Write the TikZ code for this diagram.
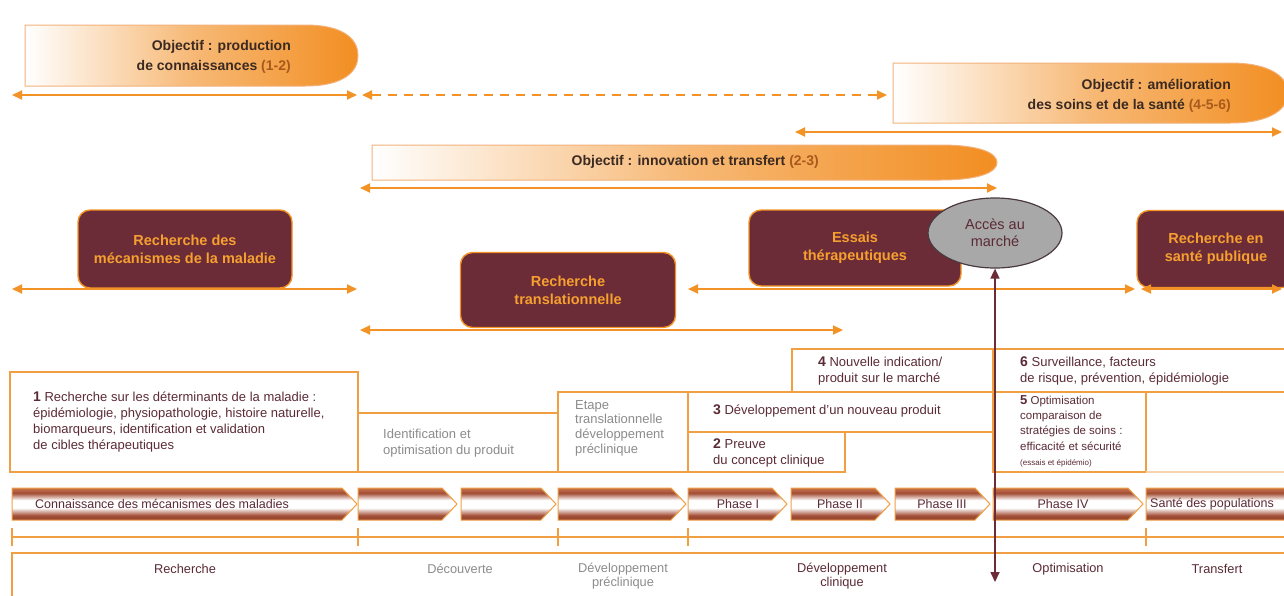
\documentclass[tikz,border=0pt]{standalone}
\usepackage{fontspec}
\setmainfont{Liberation Sans}
\usetikzlibrary{arrows.meta,shapes.geometric}
\definecolor{orng}{HTML}{F39325}
\definecolor{objor}{HTML}{F28E22}
\definecolor{objbd}{HTML}{F2B27A}
\definecolor{objdark}{HTML}{3B2A22}
\definecolor{objnum}{HTML}{A85A1C}
\definecolor{marn}{HTML}{6B2C37}
\definecolor{boxtxt}{HTML}{F7A030}
\definecolor{tline}{HTML}{F0A043}
\definecolor{dtext}{HTML}{5B2B36}
\definecolor{gtext}{HTML}{8C8C8C}
\definecolor{ellfill}{HTML}{A8A8A8}
\definecolor{ellbd}{HTML}{4A3A40}
\definecolor{chev}{HTML}{A34E36}
\definecolor{chevtop}{HTML}{C8744C}
\definecolor{chevbot}{HTML}{93442F}
\pgfdeclareverticalshading{tube}{100bp}{color(0bp)=(chevbot); color(25bp)=(chevbot); color(32bp)=(chev);
    color(44bp)=(white); color(56bp)=(white); color(67bp)=(chev); color(75bp)=(chevtop); color(100bp)=(chevtop)}
\begin{document}
\begin{tikzpicture}[x=1pt,y=-1pt,
    every node/.style={inner sep=0pt},
    span/.style={{Triangle[length=10pt,width=9pt]}-{Triangle[length=10pt,width=9pt]},draw=orng,line width=1.8pt},
    mspan/.style={{Triangle[length=10pt,width=9pt]}-{Triangle[length=10pt,width=9pt]},draw=marn,line width=1.6pt},
    objshade/.style={left color=white,right color=objor,middle color=objor!62!white,draw=objbd,line width=1pt},
    objtext/.style={align=right,anchor=east,text=objdark,font=\fontsize{14}{20}\selectfont\bfseries},
    resbox/.style={draw=orng,line width=1.4pt,fill=marn,rounded corners=12pt,text=boxtxt,
        font=\fontsize{14.5}{18}\selectfont\bfseries,align=center},
    cell/.style={draw=tline,line width=1.2pt},
    celltext/.style={align=left,anchor=north west,text=dtext,font=\fontsize{13}{16}\selectfont},
    graytext/.style={celltext,text=gtext},
    chevron/.style={shading=tube,draw=tline,line width=1pt},
    chevtext/.style={text=dtext,font=\fontsize{12.5}{14}\selectfont},
    stagetext/.style={text=dtext,align=center,font=\fontsize{12.8}{14.5}\selectfont}]
    \useasboundingbox (0,0) rectangle (1284,595);
    \fill[white] (0,0) rectangle (1284,595);
    \clip (0,0) rectangle (1284,595);
    % objectifs
    \shadedraw[objshade] (25,25) -- (305,25) .. controls (345,25) and (358,40) .. (358,55.5)
        .. controls (358,71) and (345,86) .. (305,86) -- (25,86) -- cycle;
    \node[objtext] (obj1) at (291,57) {Objectif : production\\de connaissances {\color{objnum}(1-2)}};
    \shadedraw[objshade] (893,63) -- (1230,63) .. controls (1272,63) and (1288,78) .. (1288,93)
        .. controls (1288,108) and (1272,123) .. (1230,123) -- (893,123) -- cycle;
    \node[objtext] (obj3) at (1231,96) {Objectif : amélioration\\des soins et de la santé {\color{objnum}(4-5-6)}};
    \shadedraw[objshade] (372,145) -- (940,145) .. controls (980,145) and (997,153) .. (997,162.5)
        .. controls (997,172) and (980,180) .. (940,180) -- (372,180) -- cycle;
    \node[objtext] (obj2) at (819,162) {Objectif : innovation et transfert {\color{objnum}(2-3)}};
    % fleches des objectifs
    \coordinate (a1) at (12,95);   \coordinate (a2) at (357,95);
    \coordinate (b1) at (362,95);  \coordinate (b2) at (887,95);
    \coordinate (c1) at (795,132); \coordinate (c2) at (1282,132);
    \coordinate (d1) at (360,188); \coordinate (d2) at (997,188);
    \draw[span] (a1) -- (a2);
    \draw[span,dash pattern=on 9pt off 7pt] (b1) -- (b2);
    \draw[span] (c1) -- (c2);
    \draw[span] (d1) -- (d2);
    % types de recherche
    \node[resbox,minimum width=214pt,minimum height=78pt] (mech) at (185,249) {Recherche des\\mécanismes de la maladie};
    \node[resbox,minimum width=215pt,minimum height=75pt] (trans) at (568,290) {Recherche\\translationnelle};
    \node[resbox,minimum width=212pt,minimum height=76pt] (essai) at (855,248) {Essais\\thérapeutiques};
    \node[resbox,minimum width=158pt,minimum height=77pt] (sante) at (1216,249) {Recherche en\\santé publique};
    \node[ellipse,draw=ellbd,line width=1.2pt,fill=ellfill,minimum width=134pt,minimum height=70pt,
        text=dtext,align=center,font=\fontsize{14.5}{17}\selectfont] (acc) at (995,233) {Accès au\\marché};
    \coordinate (e1) at (12,289);   \coordinate (e2) at (357,289);
    \coordinate (f1) at (688,289);  \coordinate (f2) at (1135,289);
    \coordinate (g1) at (1141,289); \coordinate (g2) at (1282,289);
    \coordinate (h1) at (360,330);  \coordinate (h2) at (843,330);
    \draw[span] (e1) -- (e2);
    \draw[span] (f1) -- (f2);
    \draw[span] (g1) -- (g2);
    \draw[span] (h1) -- (h2);
    % tableau des etapes
    \draw[cell] (10,372) rectangle (358,472);
    \draw[cell] (358,413) rectangle (558,472);
    \draw[cell] (558,392) rectangle (688,472);
    \draw[cell] (688,392) rectangle (993,432);
    \draw[cell] (688,432) rectangle (845,472);
    \draw[cell] (792,349) rectangle (993,392);
    \draw[cell] (993,349) rectangle (1300,392);
    \draw[cell] (993,392) rectangle (1146,472);
    \draw[cell,draw=tline!45] (1146,472) -- (1284,472);
    \node[celltext] (t1) at (33,392) {{\bfseries\fontsize{14}{16}\selectfont 1} Recherche sur les déterminants de la maladie :\\
        épidémiologie, physiopathologie, histoire naturelle,\\biomarqueurs, identification et validation\\de cibles thérapeutiques};
    \node[graytext] (tid) at (383,429) {Identification et\\optimisation du produit};
    \node[graytext,font=\fontsize{13}{14.7}\selectfont] (tet) at (575,400) {Etape\\translationnelle\\développement\\préclinique};
    \node[celltext] (t3) at (713,405) {{\bfseries\fontsize{14}{16}\selectfont 3} Développement d'un nouveau produit};
    \node[celltext] (t2) at (713,439) {{\bfseries\fontsize{14}{16}\selectfont 2} Preuve\\du concept clinique};
    \node[celltext] (t4) at (818,357) {{\bfseries\fontsize{14}{16}\selectfont 4} Nouvelle indication/\\produit sur le marché};
    \node[celltext] (t6) at (1020,357) {{\bfseries\fontsize{14}{16}\selectfont 6} Surveillance, facteurs\\de risque, prévention, épidémiologie};
    \node[celltext,font=\fontsize{11.5}{15.3}\selectfont] (t5) at (1020,395) {{\bfseries\fontsize{13}{15.3}\selectfont 5} Optimisation\\comparaison de\\stratégies de soins :\\efficacité et sécurité\\
        {\fontsize{8}{10}\selectfont (essais et épidémio)}};
    % phases
    \foreach \a/\b in {12/357,358/457,461/556,558/686,688/787,791/890,895/990,993/1143,1146/1300}
        \shadedraw[chevron] (\a,488) -- (\b-15,488) -- (\b,504) -- (\b-15,520) -- (\a,520) -- cycle;
    \node[chevtext,anchor=west] (kn) at (35,504) {Connaissance des mécanismes des maladies};
    \node[chevtext] (ph1) at (738,504) {Phase I};
    \node[chevtext] (ph2) at (840,504) {Phase II};
    \node[chevtext] (ph3) at (942,504) {Phase III};
    \node[chevtext] (ph4) at (1063,504) {Phase IV};
    \node[chevtext,anchor=west] (pop) at (1150,504) {Santé des populations};
    % axe et stades
    \draw[cell] (12,537) -- (1284,537);
    \foreach \x in {12,358,558,688,1146}
        \draw[cell] (\x,528) -- (\x,546);
    \draw[cell] (12,600) -- (12,553) -- (1290,553);
    \node[stagetext] (s1) at (185,569) {Recherche};
    \node[stagetext,text=gtext] (s2) at (460,569) {Découverte};
    \node[stagetext,text=gtext] (s3) at (623,576) {Développement\\préclinique};
    \node[stagetext] (s4) at (842,576) {Développement\\clinique};
    \node[stagetext] (s5) at (1068,569) {Optimisation};
    \node[stagetext] (s6) at (1217,569) {Transfert};
    % acces au marche
    \coordinate (vend) at (995,582);
    \draw[mspan] (acc.south) -- (vend);
\end{tikzpicture}
\end{document}
